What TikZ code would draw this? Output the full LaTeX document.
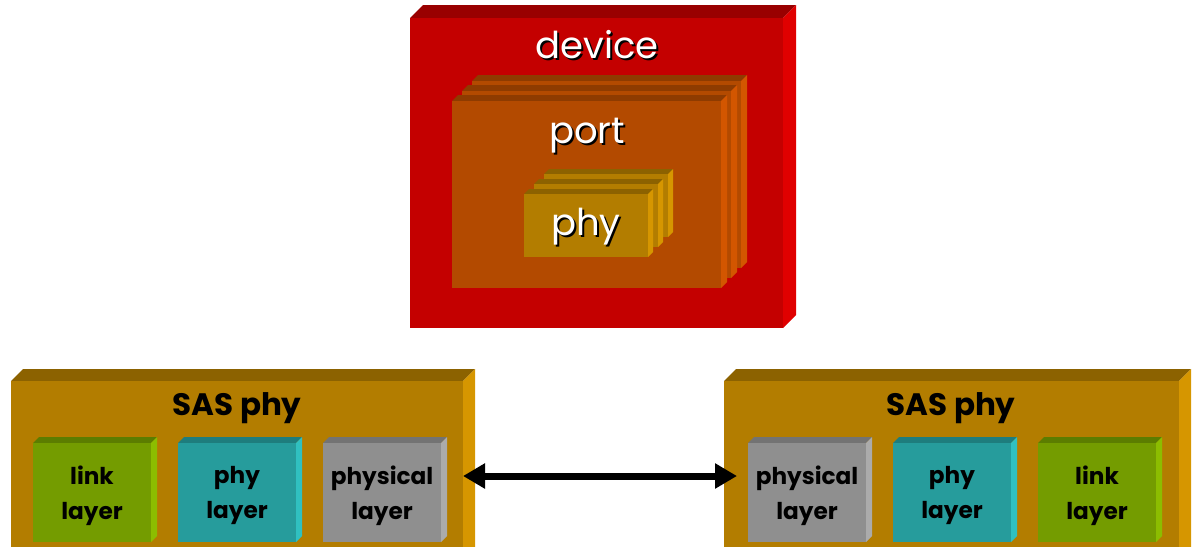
\documentclass[tikz,border=0pt]{standalone}
\usepackage{fontspec}
\setmainfont{Poppins}
\usetikzlibrary{arrows.meta}
\definecolor{devF}{HTML}{C40000}\definecolor{devT}{HTML}{990000}\definecolor{devS}{HTML}{E00000}
\definecolor{portF}{HTML}{B34A00}\definecolor{portT}{HTML}{8E3B00}\definecolor{portS}{HTML}{D35600}
\definecolor{phyF}{HTML}{B37D00}\definecolor{phyT}{HTML}{8C6200}\definecolor{phyS}{HTML}{D69600}
\definecolor{linkF}{HTML}{749C00}\definecolor{linkT}{HTML}{5C7D00}\definecolor{linkS}{HTML}{8CBD00}
\definecolor{tealF}{HTML}{269C9C}\definecolor{tealT}{HTML}{1E7D7D}\definecolor{tealS}{HTML}{30C0C0}
\definecolor{greyF}{HTML}{8F8F8F}\definecolor{greyT}{HTML}{737373}\definecolor{greyS}{HTML}{ABABAB}
\begin{document}
\begin{tikzpicture}[x=.5pt, y=-.5pt, line join=round, >={Triangle[length=11pt,width=12pt]},
	wlbl/.style={anchor=base, font=\fontsize{18.5}{18.5}\selectfont},
	blbl/.style={anchor=base, font=\fontsize{15.5}{15.5}\selectfont\bfseries},
	ilbl/.style={align=center, font=\fontsize{11.6}{17.5}\selectfont\bfseries}]
	% #1 name, #2 #3 front top left, #4 #5 front bottom right, #6 depth, #7 colour
	\def\slab#1#2#3#4#5#6#7{%
		\fill[#7T] (#2,#3)--++(#6,-#6)--(#4+#6,#3-#6)--(#4,#3)--cycle;
		\fill[#7S] (#4,#3)--++(#6,-#6)--(#4+#6,#5-#6)--(#4,#5)--cycle;
		\fill[#7F] (#2,#3) rectangle (#4,#5);
		\coordinate (#1) at ({(#2+#4)/2},{(#3+#5)/2});}
	\clip (0,0) rectangle (1192,546);
	\slab{devbox}{410}{18}{783}{328}{13}{dev}
	\foreach \k in {2,1,0} \slab{port\k}{452+10*\k}{101-10*\k}{721+10*\k}{288-10*\k}{6}{port};
	\foreach \k in {2,1,0} \slab{phy\k}{524+10*\k}{194-10*\k}{648+10*\k}{257-10*\k}{5}{phy};
	\foreach \n/\x/\y/\t in {device/597/58/device, port/587/143/port, phy/586/235/phy}{
		\node[wlbl, text=black, xshift=1pt, yshift=-1pt] at (\x,\y) {\t};
		\node[wlbl, text=white] (\n) at (\x,\y) {\t};}
	% the two SAS phys
	\slab{sasLbox}{11}{381}{463}{560}{12}{phy}
	\slab{sasRbox}{724}{381}{1179}{560}{12}{phy}
	\node[blbl] (sasL) at (237,415) {SAS phy};
	\node[blbl] (sasR) at (951,415) {SAS phy};
	\foreach \n/\x/\c/\t in {linkL/33/link/link, phyL/178/teal/phy, physL/323/grey/physical,
		physR/748/grey/physical, phyR/893/teal/phy, linkR/1038/link/link}{
		\slab{\n box}{\x}{443}{\x+118}{542}{6}{\c}
		\node[ilbl, yshift=-1.5pt] (\n) at (\n box) {\t\\layer};}
	\coordinate (endL) at (463,476);
	\coordinate (endR) at (737,476);
	\draw[<->, line width=3.5pt] (endL) -- (endR);
\end{tikzpicture}
\end{document}
